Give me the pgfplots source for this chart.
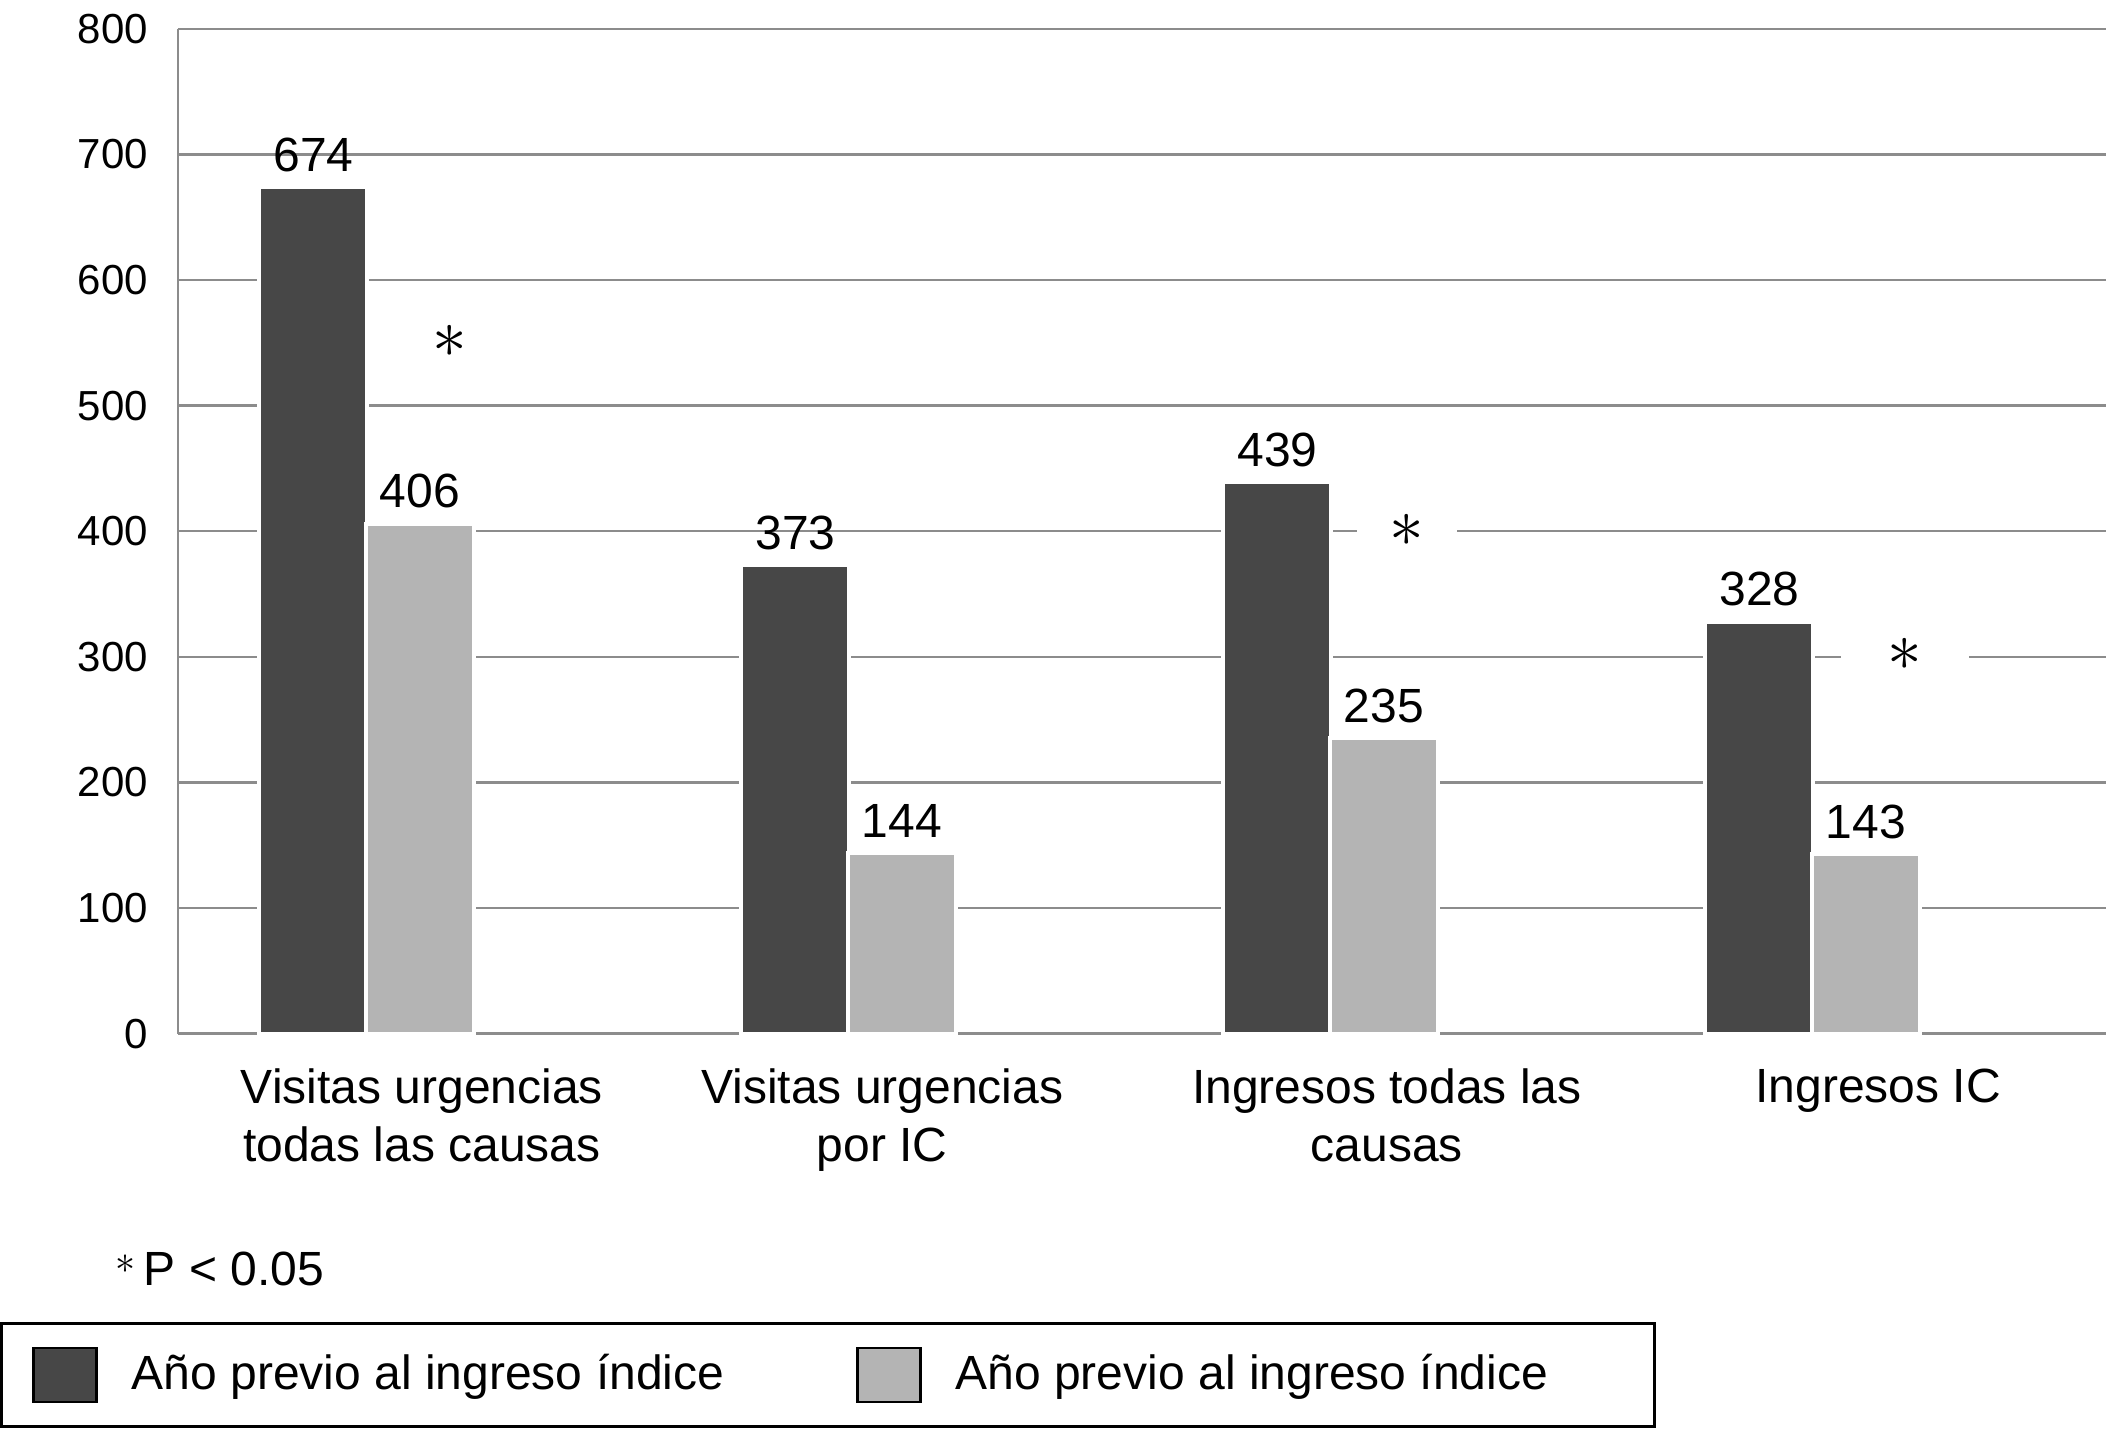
\documentclass[border=0pt]{standalone}
\usepackage{fontspec}
\setmainfont{Liberation Sans}
\usepackage{pgfplots}
\pgfplotsset{compat=1.18}
\definecolor{barDark}{HTML}{474747}
\definecolor{barLight}{HTML}{B4B4B4}
\definecolor{gridGray}{HTML}{8C8C8C}

\begin{document}
\begin{tikzpicture}
\path[use as bounding box] (-44.5pt,-99.5pt) rectangle (484.5pt,258.4pt);
\begin{axis}[
  at={(0pt,0pt)}, anchor=south west,
  scale only axis, width=482pt, height=251.2pt,
  xmin=-0.5, xmax=3.5, ymin=0, ymax=800,
  ytick={0,100,...,800},
  xtick={0.006,0.961,2.008,3.027},
  xticklabels={{Visitas urgencias\\todas las causas},{Visitas urgencias\\por IC},{Ingresos todas las\\causas},{Ingresos IC}},
  xticklabel style={align=center, font=\fontsize{12}{14.5}\selectfont, yshift=-5.2pt},
  yticklabel style={font=\fontsize{10.5}{12}\selectfont, xshift=-4pt},
  /pgf/number format/assume math mode=true,
  major tick length=0pt,
  axis x line*=bottom, axis y line*=left,
  axis line style={gridGray, line width=0.6pt},
  ymajorgrids, grid style={gridGray, line width=0.6pt},
  ybar, bar width=27pt,
  nodes near coords,
  every node near coord/.append style={font=\fontsize{12}{14}\selectfont, black},
  clip=false,
  legend columns=2,
  legend cell align=left,
  legend image code/.code={\draw[#1, draw=black, line width=0.6pt] (0pt,-6.75pt) rectangle (15.75pt,6.75pt);},
  legend style={at={(axis description cs:-0.0923,-0.287)}, anchor=north west,
    draw=black, line width=0.8pt, inner xsep=7.7pt, inner ysep=5.7pt,
    font=\fontsize{12}{14}\selectfont,
    /tikz/every odd column/.append style={column sep=6.5pt},
    /tikz/every even column/.append style={column sep=31pt}},
]
\addplot[fill=barDark, draw=white, line width=1pt, bar shift=-26.4pt]
  coordinates {(0,674) (1,373) (2,439) (3,328)};
\addplot[fill=barLight, draw=white, line width=1pt, bar shift=0.25pt]
  coordinates {(0,406) (1,144) (2,235) (3,143)};
\legend{Año previo al ingreso índice, Año previo al ingreso índice\hspace*{17pt}}
\node[fill=white, inner sep=0pt, minimum width=20pt, minimum height=12pt] at (axis cs:0.064,551) {\fontsize{17}{17}\selectfont$\ast$};
\node[fill=white, inner sep=0pt, minimum width=25pt, minimum height=12pt] at (axis cs:2.05,401) {\fontsize{17}{17}\selectfont$\ast$};
\node[fill=white, inner sep=0pt, minimum width=32pt, minimum height=12pt] at (axis cs:3.083,302) {\fontsize{17}{17}\selectfont$\ast$};
\node[anchor=west, inner sep=0pt, font=\fontsize{12}{14}\selectfont] at (axis description cs:-0.0327,-0.2345) {\raisebox{3pt}{\fontsize{10}{10}\selectfont$\ast$}\,P < 0.05};
\end{axis}
\end{tikzpicture}
\end{document}
